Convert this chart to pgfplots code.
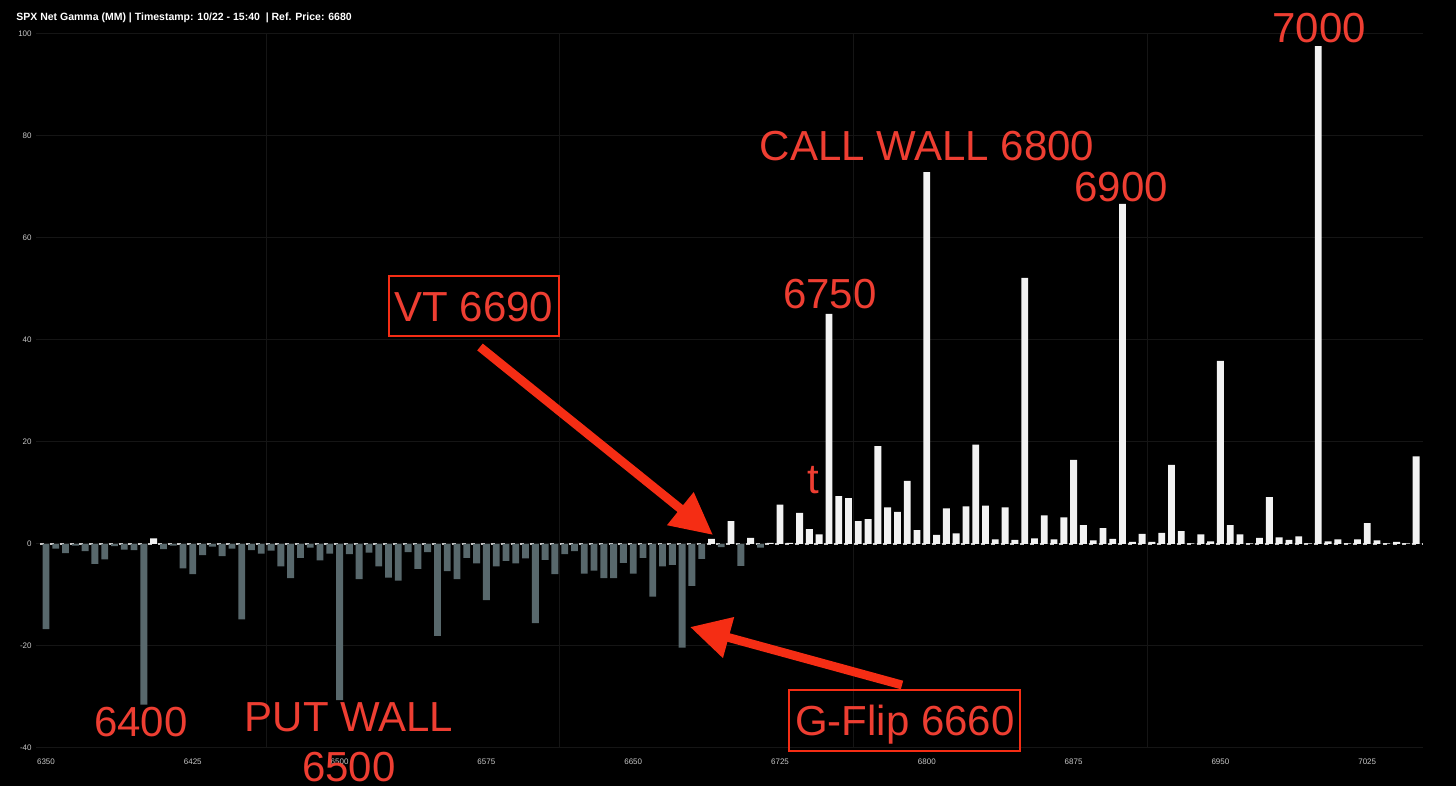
\documentclass[border=0pt]{standalone}
\usepackage{pgfplots}
\pgfplotsset{compat=1.18}
\usepackage{fontspec}
\setmainfont{Liberation Sans}
\usetikzlibrary{arrows.meta}

\definecolor{negc}{RGB}{88,104,108}
\definecolor{posc}{RGB}{242,242,242}
\definecolor{gridc}{RGB}{21,21,21}
\definecolor{tickc}{RGB}{200,200,200}
\definecolor{annot}{RGB}{238,62,50}
\definecolor{arrowc}{RGB}{245,45,20}

\begin{document}
\begin{tikzpicture}
  % page = 1456 x 786 px at 0.5pt per px
  \fill[black] (0,0) rectangle (728pt,393pt);

  \begin{axis}[
    at={(18pt,19pt)}, anchor=south west,
    scale only axis,
    width=693.5pt, height=357pt,
    xmin=6344.9, xmax=7053.5,
    ymin=-40, ymax=100,
    xtick={6350,6425,...,7025},
    ytick={-40,-20,...,100},
    extra x ticks={6462.5,6612.5,6762.5,6912.5},
    extra x tick labels={},
    extra x tick style={grid=major},
    axis line style={draw=none},
    major tick length=0pt,
    ymajorgrids=true,
    grid style={color=gridc, line width=0.5pt},
    ticklabel style={font=\fontsize{4}{4}\selectfont, text=tickc},
    /pgf/number format/assume math mode=true,
    /pgf/number format/1000 sep={},
    xticklabel style={anchor=center, yshift=-7pt},
    yticklabel style={anchor=east, inner sep=0pt, xshift=-2pt},
  ]

    % zero line
    \addplot[color=tickc, line width=0.6pt, dash pattern=on 2pt off 2.9pt, forget plot]
      coordinates {(6347,0)(7053,0)};

    % negative net gamma
    \addplot[ybar, bar width=3.5, bar shift=0pt, fill=negc, draw=none] coordinates {
      (6350,-16.7)(6355,-0.9)(6360,-1.8)(6365,-0.3)(6370,-1.4)(6375,-3.9)(6380,-3.0)
      (6385,-0.4)(6390,-1.1)(6395,-1.2)(6400,-31.5)(6410,-1.0)(6415,-0.3)(6420,-4.8)
      (6425,-5.9)(6430,-2.2)(6435,-0.5)(6440,-2.4)(6445,-0.9)(6450,-14.8)(6455,-1.2)
      (6460,-1.9)(6465,-1.3)(6470,-4.4)(6475,-6.7)(6480,-2.7)(6485,-0.7)(6490,-3.2)
      (6495,-1.9)(6500,-30.6)(6505,-2.0)(6510,-6.9)(6515,-1.7)(6520,-4.4)(6525,-6.6)
      (6530,-7.2)(6535,-1.6)(6540,-4.9)(6545,-1.6)(6550,-18.0)(6555,-5.3)(6560,-6.9)
      (6565,-2.7)(6570,-3.8)(6575,-11.0)(6580,-4.4)(6585,-3.3)(6590,-3.8)(6595,-2.8)
      (6600,-15.5)(6605,-3.1)(6610,-5.9)(6615,-2.0)(6620,-1.4)(6625,-5.8)(6630,-5.2)
      (6635,-6.7)(6640,-6.7)(6645,-3.7)(6650,-5.8)(6655,-2.7)(6660,-10.3)(6665,-4.4)
      (6670,-4.1)(6675,-20.3)(6680,-8.2)(6685,-2.9)(6695,-0.6)(6705,-4.3)(6715,-0.7)
    };

    % positive net gamma
    \addplot[ybar, bar width=3.5, bar shift=0pt, fill=posc, draw=none] coordinates {
      (6405,1.1)(6690,1.0)(6700,4.5)(6710,1.2)(6720,0.2)(6725,7.7)(6730,0.2)(6735,6.1)
      (6740,2.9)(6745,1.9)(6750,45.1)(6755,9.4)(6760,9.0)(6765,4.5)(6770,4.9)(6775,19.2)
      (6780,7.2)(6785,6.3)(6790,12.4)(6795,2.7)(6800,72.9)(6805,1.8)(6810,7.0)(6815,2.1)
      (6820,7.4)(6825,19.5)(6830,7.5)(6835,0.9)(6840,7.2)(6845,0.8)(6850,52.2)(6855,1.1)
      (6860,5.6)(6865,0.9)(6870,5.2)(6875,16.5)(6880,3.7)(6885,0.7)(6890,3.1)(6895,1.0)
      (6900,66.7)(6905,0.4)(6910,2.0)(6915,0.4)(6920,2.2)(6925,15.5)(6930,2.5)(6935,0.1)
      (6940,1.9)(6945,0.5)(6950,35.9)(6955,3.7)(6960,1.9)(6965,0.1)(6970,1.2)(6975,9.2)
      (6980,1.3)(6985,0.8)(6990,1.5)(6995,0.1)(7000,97.6)(7005,0.5)(7010,0.9)(7015,0.1)
      (7020,0.9)(7025,4.1)(7030,0.7)(7035,0.1)(7040,0.4)(7045,0.1)(7050,17.2)
    };
  \end{axis}

  % annotations, in pixel units from the top left corner
  \begin{scope}[shift={(0,393pt)}, x=0.5pt, y=-0.5pt]
    \node[anchor=west, inner sep=0pt, text=white,
          font=\bfseries\fontsize{5.25}{6}\selectfont]
      at (16,18) {SPX Net Gamma (MM) | Timestamp: 10/22 - 15:40\ \ | Ref. Price: 6680};

    \begin{scope}[every node/.style={anchor=base, inner sep=0pt, text=annot,
                  font=\fontsize{21}{21}\selectfont}]
      \node at (141,737) {6400};
      \node at (349,732) {PUT WALL};
      \node at (349,782) {6500};
      \node at (830,309) {6750};
      \node at (927,161) {CALL WALL 6800};
      \node at (1121,202) {6900};
      \node at (1319,43) {7000};
      \node at (813,494) {t};
      \node at (474,322) {VT 6690};
      \node at (905,736) {G-Flip 6660};
    \end{scope}

    \draw[arrowc, line width=1.35pt] (389,276) rectangle (559,336);
    \draw[arrowc, line width=1.35pt] (789,690) rectangle (1020,751);

    \draw[arrowc, line width=4.4pt, -{Triangle[length=21pt, width=20pt]}]
      (480,347) -- (713,535);
    \draw[arrowc, line width=4.4pt, -{Triangle[length=20pt, width=20pt]}]
      (902,685) -- (690,627);
  \end{scope}
\end{tikzpicture}
\end{document}
